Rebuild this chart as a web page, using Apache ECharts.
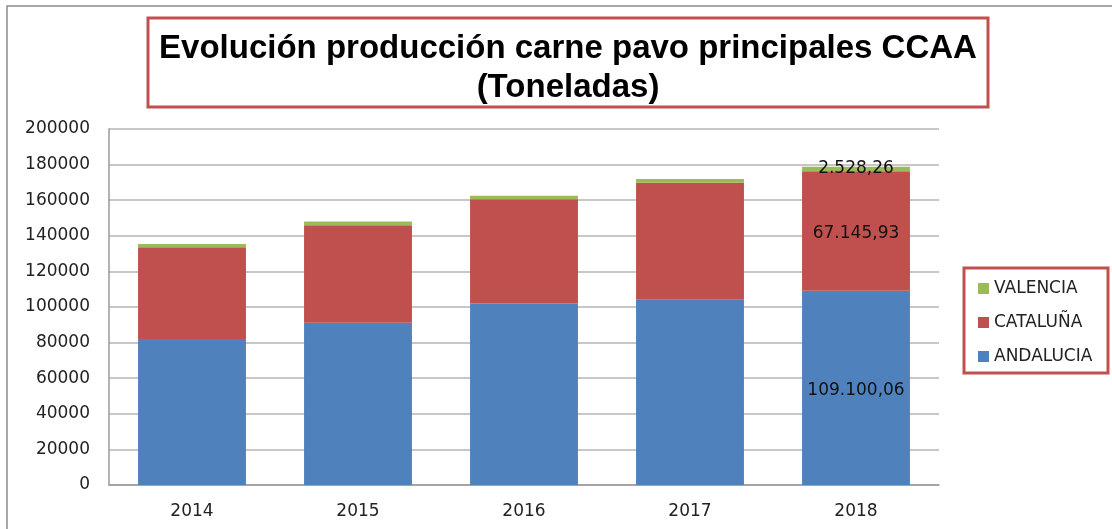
<!DOCTYPE html>
<html>
<head>
<meta charset="utf-8">
<script src="https://cdn.jsdelivr.net/npm/echarts@6/dist/echarts.min.js"></script>
<style>
  html, body { margin: 0; padding: 0; background: #fff; }
  #chart { width: 1112px; height: 529px; }
</style>
</head>
<body>
<div id="chart"></div>
<script>
// datos (toneladas)
var years = ['2014', '2015', '2016', '2017', '2018'];
var andalucia = [82000, 91200, 102000, 104100, 109100.06];
var cataluna = [51500, 54700, 58500, 65700, 67145.93];
var valencia = [1900, 2200, 2000, 2100, 2528.26];
var yTicks = [0, 20000, 40000, 60000, 80000, 100000, 120000, 140000, 160000, 180000, 200000];

var colors = { andalucia: '#4F81BD', cataluna: '#C0504D', valencia: '#9BBB59' };
var font = '"DejaVu Sans", Arial, sans-serif';

// solo se etiqueta el último año, con formato español
function fmt(v) {
  var parts = v.toFixed(2).split('.');
  return parts[0].replace(/\B(?=(\d{3})+(?!\d))/g, '.') + ',' + parts[1];
}
function labelLast(p) {
  return p.dataIndex === years.length - 1 ? fmt(p.value) : '';
}

var chart = echarts.init(document.getElementById('chart'));

chart.setOption({
  backgroundColor: '#fff',
  animation: false,
  textStyle: { fontFamily: font },
  graphic: [
    { // marco exterior
      type: 'rect',
      shape: { x: 7, y: 6, width: 1120, height: 540 },
      style: { fill: 'none', stroke: '#8c8c8c', lineWidth: 1.5 }
    },
    { // caja del título
      type: 'rect',
      shape: { x: 148, y: 18, width: 840, height: 89 },
      style: { fill: '#fff', stroke: '#C0504D', lineWidth: 3 }
    },
    {
      type: 'text',
      x: 568,
      y: 29,
      style: {
        text: 'Evolución producción carne pavo principales CCAA\n(Toneladas)',
        textAlign: 'center',
        textVerticalAlign: 'top',
        font: 'bold 33px "Liberation Sans", Arial, sans-serif',
        lineHeight: 39,
        fill: '#000'
      }
    },
    { // caja de la leyenda
      type: 'rect',
      shape: { x: 964, y: 268, width: 144, height: 105 },
      style: { fill: '#fff', stroke: '#C0504D', lineWidth: 3 }
    }
  ],
  legend: {
    data: ['VALENCIA', 'CATALUÑA', 'ANDALUCIA'],
    orient: 'vertical',
    left: 973,
    top: 275,
    itemWidth: 11,
    itemHeight: 11,
    itemGap: 17,
    icon: 'rect',
    textStyle: { fontSize: 17, color: '#222', fontFamily: font }
  },
  grid: { left: 109, right: 173, top: 129, bottom: 44 },
  xAxis: {
    type: 'category',
    data: years,
    axisLine: { lineStyle: { color: '#9a9a9a', width: 1.5 } },
    axisTick: { show: false },
    axisLabel: { fontSize: 17, color: '#222', margin: 18 }
  },
  yAxis: {
    type: 'value',
    min: 0,
    max: 200000,
    interval: 20000,
    axisLine: { show: true, lineStyle: { color: '#9a9a9a', width: 1.5 } },
    axisTick: { show: false },
    axisLabel: {
      fontSize: 17, color: '#222', margin: 19, padding: [6, 0, 0, 0],
      formatter: function (v) { return yTicks.indexOf(v) >= 0 ? String(v) : ''; }
    },
    splitLine: { lineStyle: { color: '#b4b4b4', width: 1.5 } }
  },
  series: [
    {
      name: 'ANDALUCIA', type: 'bar', stack: 'total', barWidth: '65%',
      itemStyle: { color: colors.andalucia },
      label: { show: true, position: 'inside', offset: [0, 3], formatter: labelLast, fontSize: 17, color: '#111' },
      data: andalucia
    },
    {
      name: 'CATALUÑA', type: 'bar', stack: 'total',
      itemStyle: { color: colors.cataluna },
      label: { show: true, position: 'inside', offset: [0, 3], formatter: labelLast, fontSize: 17, color: '#111' },
      data: cataluna
    },
    {
      name: 'VALENCIA', type: 'bar', stack: 'total',
      itemStyle: { color: colors.valencia },
      label: { show: true, position: 'inside', offset: [0, 3], formatter: labelLast, fontSize: 17, color: '#111' },
      labelLayout: { hideOverlap: false },
      data: valencia
    }
  ]
});
</script>
</body>
</html>
